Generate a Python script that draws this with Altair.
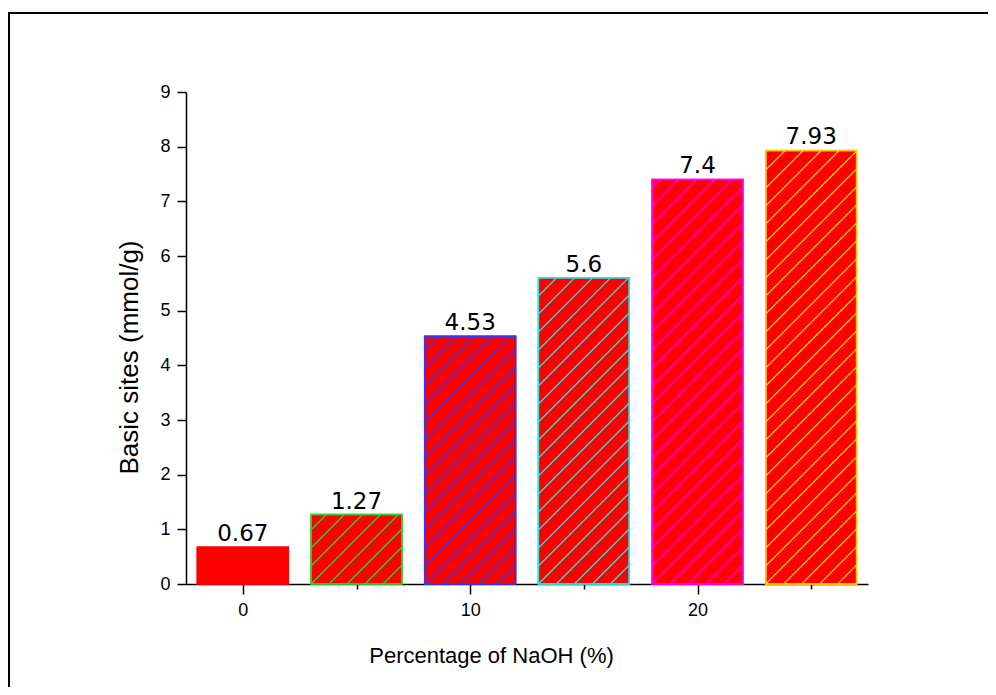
import altair as alt
import pandas as pd
import numpy as np

# ---- data ----
naoh = [0, 5, 10, 15, 20, 25]
basic_sites = [0.67, 1.27, 4.53, 5.6, 7.4, 7.93]
labels = ["0.67", "1.27", "4.53", "5.6", "7.4", "7.93"]
edge_colors = ["#FF0000", "#33CC33", "#3333FF", "#22E8E8", "#FF00FF", "#FFCC00"]
hatched = [False, True, True, True, True, True]

x_ticks = [0, 5, 10, 15, 20, 25]
y_ticks = [i * 0.5 for i in range(19)]

# ---- layout / style ----
W, H = 682, 492
X_DOM = [-2.5, 27.5]
Y_DOM = [0, 9]
BAR_W = 4.0
HATCH_STEP = 18.0  # px between hatch lines (horizontal)
FONT = "Liberation Sans"

bars = pd.DataFrame({
    "naoh": naoh, "val": basic_sites, "lab": labels,
    "edge": edge_colors, "id": [str(i) for i in range(len(naoh))],
})

# hatch segments derived from each bar's rectangle
kx = W / (X_DOM[1] - X_DOM[0])
ky = H / (Y_DOM[1] - Y_DOM[0])
segs = []
for i, (xc, v) in enumerate(zip(naoh, basic_sites)):
    if not hatched[i]:
        continue
    bw = BAR_W * kx
    bh = v * ky
    xl = xc - BAR_W / 2
    c = -bh + ((bh) % HATCH_STEP)
    while c < bw:
        if c >= 0:
            x0, y0 = c, 0.0
        else:
            x0, y0 = 0.0, -c
        if c + bh <= bw:
            x1, y1 = c + bh, bh
        else:
            x1, y1 = bw, bw - c
        if x1 - x0 > 0.5:
            segs.append({
                "x": xl + x0 / kx, "y": y0 / ky,
                "x2": xl + x1 / kx, "y2": y1 / ky,
                "id": str(i), "edge": edge_colors[i],
            })
        c += HATCH_STEP
hatch = pd.DataFrame(segs)

xscale = alt.Scale(domain=X_DOM, nice=False, zero=False)
yscale = alt.Scale(domain=Y_DOM, nice=False, zero=False)

x_axis = alt.Axis(
    values=x_ticks, title="Percentage of NaOH (%)", format=".0f",
    labelExpr="datum.value % 10 === 0 ? datum.label : ''",
    tickSize={"condition": {"test": "datum.value % 10 === 0", "value": 10}, "value": 5},
    labelPadding=7, grid=False,
    titleX=305, titleY=71, titleBaseline="middle", titleAnchor="middle",
)
y_axis = alt.Axis(
    values=y_ticks, title="Basic sites (mmol/g)", format=".0f",
    labelExpr="datum.value % 1 === 0 ? datum.label : ''",
    tickSize={"condition": {"test": "datum.value % 1 === 0", "value": 9}, "value": 5},
    labelPadding=7, grid=False,
    titleX=-57, titleY=265, titleBaseline="middle", titleAnchor="middle",
    titleFontSize=26,
)

base = alt.Chart(bars)

bar_layer = base.mark_rect(fill="#FF0000", strokeWidth=1.5).transform_calculate(
    xl="datum.naoh - 2", xr="datum.naoh + 2"
).encode(
    x=alt.X("xl:Q", scale=xscale, axis=x_axis),
    x2="xr:Q",
    y=alt.Y("val:Q", scale=yscale, axis=y_axis),
    y2=alt.datum(0),
    stroke=alt.Stroke("edge:N", scale=None),
)

hatch_layer = alt.Chart(hatch).mark_rule(strokeWidth=1.3).encode(
    x=alt.X("x:Q", scale=xscale),
    y=alt.Y("y:Q", scale=yscale),
    x2="x2:Q", y2="y2:Q",
    stroke=alt.Stroke("edge:N", scale=None),
)

edge_layer = base.mark_rect(fillOpacity=0, strokeWidth=1.5).transform_calculate(
    xl="datum.naoh - 2", xr="datum.naoh + 2"
).encode(
    x=alt.X("xl:Q", scale=xscale),
    x2="xr:Q",
    y=alt.Y("val:Q", scale=yscale),
    y2=alt.datum(0),
    stroke=alt.Stroke("edge:N", scale=None),
)

text_layer = base.mark_text(
    baseline="bottom", dy=-1, fontSize=23, font="DejaVu Sans", color="black"
).encode(
    x=alt.X("naoh:Q", scale=xscale),
    y=alt.Y("val:Q", scale=yscale),
    text="lab:N",
)

frame = alt.Chart(bars).mark_rect(
    fill=None, stroke="black", strokeWidth=2, clip=False
).encode(
    x=alt.value(-177), x2=alt.value(830),
    y=alt.value(-79), y2=alt.value(700),
)

chart = alt.layer(
    frame, bar_layer, hatch_layer, edge_layer, text_layer
).properties(
    width=W, height=H, background="white",
    padding={"left": 178, "top": 84, "right": 120, "bottom": 103},
    autosize=alt.AutoSizeParams(type="none"),
).configure_view(stroke=None).configure_axis(
    domainColor="black", domainWidth=1.5, tickColor="black", tickWidth=1.5,
    labelFont=FONT, labelFontSize=18, labelColor="black",
    titleFont=FONT, titleFontSize=22, titleFontWeight="normal", titleColor="black",
)

chart.save("out.html", embed_options={"renderer": "svg", "actions": False})
